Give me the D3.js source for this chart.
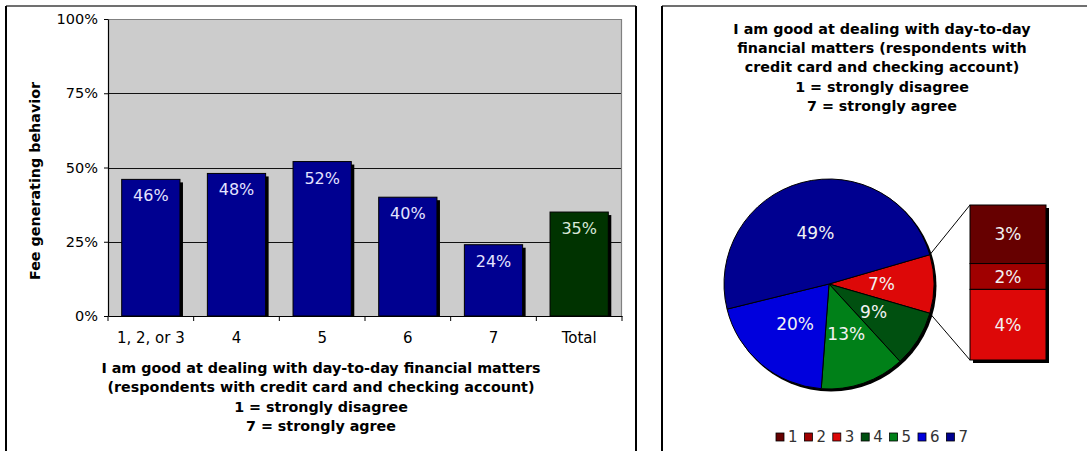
<!DOCTYPE html>
<html>
<head>
<meta charset="utf-8">
<script src="https://cdn.jsdelivr.net/npm/d3@7"></script>
<style>
  html, body { margin: 0; padding: 0; background: #fff; }
  svg { display: block; }
  text { font-family: "DejaVu Sans", Verdana, sans-serif; }
</style>
</head>
<body>
<svg id="chart" width="1087" height="451"></svg>
<script>
// ---------- data ----------
const barCategories = ["1, 2, or 3", "4", "5", "6", "7", "Total"];
const barValues = [0.46, 0.48, 0.52, 0.40, 0.24, 0.35];
const barLabels = ["46%", "48%", "52%", "40%", "24%", "35%"];
const yTicks = [0, 0.25, 0.5, 0.75, 1];
const yTickLabels = ["0%", "25%", "50%", "75%", "100%"];
const yAxisTitle = "Fee generating behavior";
const xAxisTitle = [
  "I am good at dealing with day-to-day financial matters",
  "(respondents with credit card and checking account)",
  "1 = strongly disagree",
  "7 = strongly agree"
];

const pieTitle = [
  "I am good at dealing with day-to-day",
  "financial matters (respondents with",
  "credit card and checking account)",
  "1 = strongly disagree",
  "7 = strongly agree"
];
const pieCategories = ["1", "2", "3", "4", "5", "6", "7"];
const pieValues = [3.4, 1.5, 4.1, 8.7, 13.0, 20.0, 49.4];
const pieLabels = ["3%", "2%", "4%", "9%", "13%", "20%", "49%"];
const otherLabel = "7%";
const pieColors = ["#660000", "#a00000", "#dd0808", "#005010", "#008018", "#0000dd", "#000090"];

// ---------- setup ----------
const svg = d3.select("#chart");

// panels
function panel(x, y, w, h) {
  svg.append("rect").attr("x", x).attr("y", y).attr("width", w).attr("height", h)
    .attr("fill", "#fff").attr("stroke", "none");
  svg.append("line").attr("x1", x).attr("x2", x + w).attr("y1", y).attr("y2", y)
    .attr("stroke", "#707070").attr("stroke-width", 2);
  svg.append("line").attr("x1", x).attr("x2", x).attr("y1", y).attr("y2", y + h)
    .attr("stroke", "#000").attr("stroke-width", 2);
  svg.append("line").attr("x1", x + w).attr("x2", x + w).attr("y1", y).attr("y2", y + h)
    .attr("stroke", "#000").attr("stroke-width", 2);
}
panel(6, 6, 630, 470);
panel(662, 6, 450, 470);

// ---------- bar chart ----------
const plot = { left: 108, right: 622, top: 19, bottom: 316 };
const x = d3.scaleBand().domain(barCategories).range([plot.left, plot.right]).paddingInner(0.32).paddingOuter(0.16);
const y = d3.scaleLinear().domain([0, 1]).range([plot.bottom, plot.top]);

const g = svg.append("g");
g.append("rect").attr("x", plot.left).attr("y", plot.top)
  .attr("width", plot.right - plot.left).attr("height", plot.bottom - plot.top)
  .attr("fill", "#cccccc");

// gridlines
g.selectAll(".grid").data(yTicks.filter(d => d > 0 && d < 1)).enter().append("line")
  .attr("x1", plot.left).attr("x2", plot.right)
  .attr("y1", d => Math.round(y(d)) + 0.5).attr("y2", d => Math.round(y(d)) + 0.5)
  .attr("stroke", "#111").attr("stroke-width", 1);
// plot border top/right
g.append("path")
  .attr("d", `M${plot.left},${plot.top + 0.5}H${plot.right - 0.5}V${plot.bottom}`)
  .attr("fill", "none").attr("stroke", "#808080").attr("stroke-width", 1.2);

// bars: shadow then bar
const bw = x.bandwidth();
g.selectAll(".shadow").data(barValues).enter().append("rect")
  .attr("x", (d, i) => x(barCategories[i]) + 3)
  .attr("y", d => y(d) + 3)
  .attr("width", bw)
  .attr("height", d => plot.bottom - y(d) - 3)
  .attr("fill", "#000");
g.selectAll(".bar").data(barValues).enter().append("rect")
  .attr("x", (d, i) => x(barCategories[i]))
  .attr("y", d => y(d))
  .attr("width", bw)
  .attr("height", d => plot.bottom - y(d))
  .attr("fill", (d, i) => barCategories[i] === "Total" ? "#003300" : "#000090")
  .attr("stroke", "#000").attr("stroke-width", 1);
g.selectAll(".blabel").data(barValues).enter().append("text")
  .attr("x", (d, i) => x(barCategories[i]) + bw / 2)
  .attr("y", d => y(d) + 22)
  .attr("text-anchor", "middle")
  .attr("font-size", 16)
  .attr("fill", (d, i) => barCategories[i] === "Total" ? "#d8e8d8" : "#e4e4ff")
  .text((d, i) => barLabels[i]);

// y axis
const yAxis = d3.axisLeft(y).tickValues(yTicks).tickFormat((d, i) => yTickLabels[i])
  .tickSizeOuter(0).tickSizeInner(4).tickPadding(6);
const ya = svg.append("g").attr("transform", `translate(${plot.left},0)`).call(yAxis);
ya.select(".domain").attr("stroke", "#000").attr("stroke-width", 1.2);
ya.selectAll(".tick line").attr("stroke", "#000");
ya.selectAll(".tick text").attr("font-size", 14.5).attr("fill", "#000")
  .attr("font-family", '"DejaVu Sans", Verdana, sans-serif');

// x axis
const xAxis = d3.axisBottom(x).tickSize(0).tickPadding(16);
const xa = svg.append("g").attr("transform", `translate(0,${plot.bottom})`).call(xAxis);
xa.select(".domain").attr("stroke", "#000").attr("stroke-width", 1.2);
xa.selectAll(".tick text").attr("font-size", 15).attr("fill", "#000")
  .attr("font-family", '"DejaVu Sans", Verdana, sans-serif');
// category boundary ticks
const bounds = d3.range(barCategories.length + 1).map(i => plot.left + i * (plot.right - plot.left) / barCategories.length);
xa.selectAll(".btick").data(bounds).enter().append("line")
  .attr("x1", d => d).attr("x2", d => d).attr("y1", 0).attr("y2", 5)
  .attr("stroke", "#000").attr("stroke-width", 1);

// axis titles
svg.append("text")
  .attr("transform", `translate(40,181) rotate(-90)`)
  .attr("text-anchor", "middle").attr("font-size", 14.3).attr("font-weight", "bold")
  .text(yAxisTitle);
svg.selectAll(".xtitle").data(xAxisTitle).enter().append("text")
  .attr("x", 321).attr("y", (d, i) => 373 + i * 19.3)
  .attr("text-anchor", "middle").attr("font-size", 14.3).attr("font-weight", "bold")
  .text(d => d);

// ---------- pie-of-bar ----------
svg.selectAll(".ptitle").data(pieTitle).enter().append("text")
  .attr("x", 882).attr("y", (d, i) => 34 + i * 19.2)
  .attr("text-anchor", "middle").attr("font-size", 14.3).attr("font-weight", "bold")
  .text(d => d);

const cx = 829, cy = 284, r = 105;
const otherValue = d3.sum(pieValues.slice(0, 3));
const mainData = [
  { label: otherLabel, value: otherValue, color: pieColors[2] },
  ...pieValues.slice(3).map((v, i) => ({ label: pieLabels[i + 3], value: v, color: pieColors[i + 3] }))
];
const total = d3.sum(mainData, d => d.value);
const otherAngle = otherValue / total * 2 * Math.PI;
const start = Math.PI / 2 - otherAngle / 2;
const pie = d3.pie().value(d => d.value).sort(null).startAngle(start).endAngle(start + 2 * Math.PI);
const arcs = pie(mainData);
const arc = d3.arc().innerRadius(0).outerRadius(r);
const labelArc = d3.arc().innerRadius(0).outerRadius(r);

const pg = svg.append("g").attr("transform", `translate(${cx},${cy})`);
pg.append("circle").attr("cx", 2).attr("cy", 2).attr("r", r + 0.5).attr("fill", "#000");
pg.selectAll(".slice").data(arcs).enter().append("path")
  .attr("d", arc).attr("fill", d => d.data.color)
  .attr("stroke", "#000").attr("stroke-width", 1);
pg.selectAll(".plabel").data(arcs).enter().append("text")
  .attr("transform", d => `translate(${labelArc.centroid(d)})`)
  .attr("dy", "0.36em").attr("text-anchor", "middle")
  .attr("font-size", 17).attr("fill", "#f2f2f2")
  .text(d => d.data.label);

// stacked bar of "other"
const bar = { x: 970, w: 76, top: 205, bottom: 360 };
const sy = d3.scaleLinear().domain([0, otherValue]).range([bar.top, bar.bottom]);
const stackData = pieValues.slice(0, 3).map((v, i) => ({ v, label: pieLabels[i], color: pieColors[i], c0: d3.sum(pieValues.slice(0, i)) }));
svg.append("rect").attr("x", bar.x + 3).attr("y", bar.top + 3).attr("width", bar.w).attr("height", bar.bottom - bar.top)
  .attr("fill", "#000");
svg.selectAll(".seg").data(stackData).enter().append("rect")
  .attr("x", bar.x).attr("y", d => sy(d.c0)).attr("width", bar.w)
  .attr("height", d => sy(d.c0 + d.v) - sy(d.c0))
  .attr("fill", d => d.color).attr("stroke", "#000").attr("stroke-width", 1);
svg.selectAll(".seglabel").data(stackData).enter().append("text")
  .attr("x", bar.x + bar.w / 2).attr("y", d => (sy(d.c0) + sy(d.c0 + d.v)) / 2)
  .attr("dy", "0.36em").attr("text-anchor", "middle")
  .attr("font-size", 17).attr("fill", "#f2f2f2")
  .text(d => d.label);

// connector lines
const a0 = arcs[0].startAngle, a1 = arcs[0].endAngle;
svg.append("line")
  .attr("x1", cx + r * Math.sin(a0)).attr("y1", cy - r * Math.cos(a0))
  .attr("x2", bar.x).attr("y2", bar.top).attr("stroke", "#000").attr("stroke-width", 1);
svg.append("line")
  .attr("x1", cx + r * Math.sin(a1)).attr("y1", cy - r * Math.cos(a1))
  .attr("x2", bar.x).attr("y2", bar.bottom).attr("stroke", "#000").attr("stroke-width", 1);

// legend
const lg = svg.append("g").attr("transform", "translate(776,437)");
const items = lg.selectAll(".li").data(pieCategories).enter().append("g")
  .attr("transform", (d, i) => `translate(${i * 28.4},0)`);
items.append("rect").attr("x", 0).attr("y", -4).attr("width", 8).attr("height", 8)
  .attr("fill", (d, i) => pieColors[i]).attr("stroke", "#000").attr("stroke-width", 0.8);
items.append("text").attr("x", 12).attr("y", 0).attr("dy", "0.36em")
  .attr("font-size", 15).attr("fill", "#333").text(d => d);
</script>
</body>
</html>
